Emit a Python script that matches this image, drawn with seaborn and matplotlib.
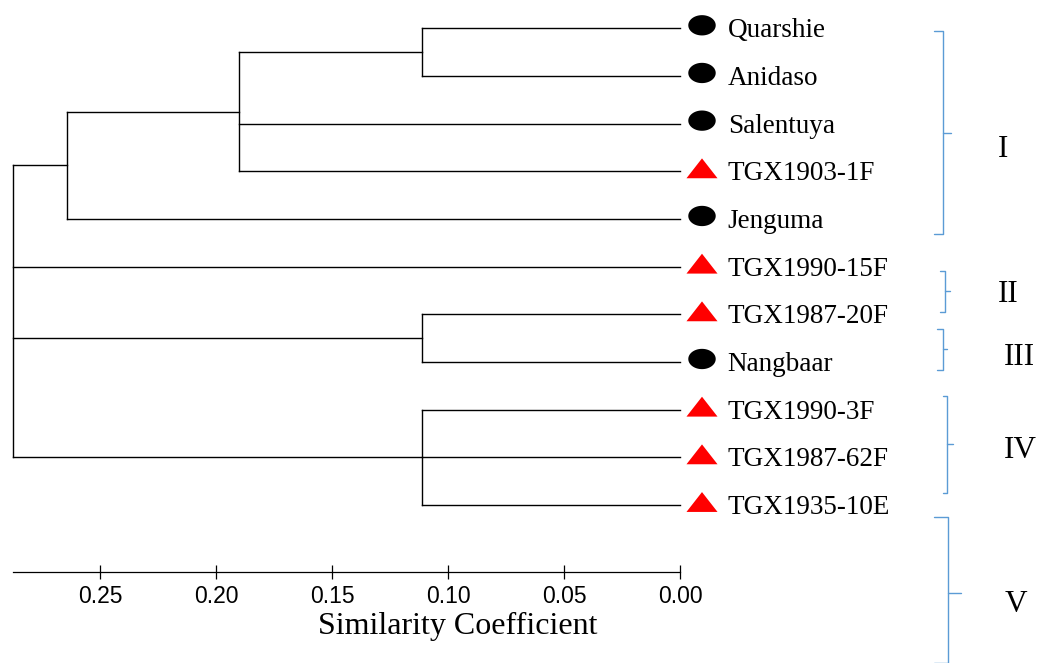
import numpy as np
import pandas as pd
import matplotlib
matplotlib.use("Agg")
import matplotlib.pyplot as plt
import seaborn as sns
from matplotlib.path import Path
from matplotlib.transforms import offset_copy

# ---------------- data ----------------
leaves = ["Quarshie", "Anidaso", "Salentuya", "TGX1903-1F", "Jenguma",
          "TGX1990-15F", "TGX1987-20F", "Nangbaar", "TGX1990-3F",
          "TGX1987-62F", "TGX1935-10E"]
leaf_kind = ["Local", "Local", "Local", "Improved", "Local",
             "Improved", "Improved", "Local", "Improved", "Improved", "Improved"]

node_names = ["A", "B", "C", "D", "E", "root"]
node_children = [["Quarshie", "Anidaso"],
                 ["A", "Salentuya", "TGX1903-1F"],
                 ["B", "Jenguma"],
                 ["TGX1987-20F", "Nangbaar"],
                 ["TGX1990-3F", "TGX1987-62F", "TGX1935-10E"],
                 ["C", "TGX1990-15F", "D", "E"]]
node_heights = [0.111, 0.190, 0.264, 0.111, 0.111, 0.2875]

x_ticks = [0.25, 0.20, 0.15, 0.10, 0.05, 0.00]
x_label = "Similarity Coefficient"

group_names = ["I", "II", "III", "IV", "V"]

# ---------------- style ----------------
sns.set_theme(style="ticks")
plt.rcParams["font.family"] = ["Liberation Serif", "DejaVu Serif"]

W, H = 1040, 663
fig = plt.figure(figsize=(W / 100, H / 100), dpi=100)
fig.patch.set_facecolor("white")

ax_left, ax_right, ax_bottom_px = 12.7, 680.0, 572.3
ax = fig.add_axes([ax_left / W, (H - ax_bottom_px) / H,
                   (ax_right - ax_left) / W, ax_bottom_px / H])
ax.patch.set_alpha(0)

# ---------------- dendrogram ----------------
pos = {name: (0.0, float(i)) for i, name in enumerate(leaves)}
lw = 1.0
for name, kids, h in zip(node_names, node_children, node_heights):
    ys = [pos[k][1] for k in kids]
    for k in kids:
        kx, ky = pos[k]
        ax.plot([h, kx], [ky, ky], color="black", lw=lw,
                solid_capstyle="projecting", clip_on=False)
    ax.plot([h, h], [min(ys), max(ys)], color="black", lw=lw,
            solid_capstyle="projecting", clip_on=False)
    pos[name] = (h, (min(ys) + max(ys)) / 2)

# ---------------- leaf markers ----------------
theta = np.linspace(0, 2 * np.pi, 80)
ellipse = Path(np.column_stack([0.5 * np.cos(theta), 0.37 * np.sin(theta)]), closed=True)
triangle = Path([(-0.5, -0.32), (0.5, -0.32), (0.0, 0.32), (-0.5, -0.32)], closed=True)

df = pd.DataFrame({"x": [0.0] * len(leaves), "y": np.arange(len(leaves)),
                   "kind": leaf_kind, "label": leaves})

mk_tr = offset_copy(ax.transData, fig=fig, x=22 * 0.72, y=3 * 0.72, units="points")
sns.scatterplot(data=df, x="x", y="y", hue="kind", style="kind", size="kind",
                palette={"Local": "black", "Improved": "red"},
                markers={"Local": ellipse, "Improved": triangle},
                sizes={"Local": 390, "Improved": 500},
                linewidth=0, legend=False, clip_on=False, transform=mk_tr, ax=ax)

leaf_fs = 19.5
lbl_tr = offset_copy(ax.transData, fig=fig, x=47.7 * 0.72, y=-0.331 * leaf_fs,
                     units="points")
for _, r in df.iterrows():
    ax.text(r["x"], r["y"], r["label"], transform=lbl_tr, ha="left",
            va="baseline", fontsize=leaf_fs, color="black",
            fontfamily="Liberation Serif", clip_on=False)

# ---------------- axes ----------------
ax.set_xlim(0.2876, 0.0)
ax.set_ylim((ax_bottom_px - 28.3) / 47.67, -28.3 / 47.67)
ax.set_yticks([])
ax.set_ylabel("")
for s in ["top", "left", "right"]:
    ax.spines[s].set_visible(False)
ax.spines["bottom"].set_color("black")
ax.spines["bottom"].set_linewidth(0.9)
ax.set_xticks(x_ticks, labels=[f"{t:.2f}" for t in x_ticks],
              fontfamily="Liberation Sans", fontsize=16.5)
ax.tick_params(axis="x", direction="inout", length=9.6, width=0.9, pad=4.0,
               colors="black", labelcolor="black")
ax.set_xlabel(x_label, fontsize=23, fontfamily="Liberation Serif", color="black")
ax.xaxis.set_label_coords(0.6666, (ax_bottom_px - 634) / ax_bottom_px)
ax.xaxis.label.set_va("baseline")

# ---------------- group brackets ----------------
br_top = [31, 271, 329, 396, 517]
br_bottom = [234, 312, 370, 493, 663]
br_x = [943, 945, 943, 947, 947.5]
br_end = [934, 940, 937, 943, 934]
br_mid = [133, 291, 349, 444, 593]
br_tip = [951, 950, 947, 953, 961]
lab_x = [1003, 1008, 1019, 1020, 1016]
lab_base = [157, 302, 365, 458, 612]

ov = fig.add_axes([0, 0, 1, 1])
ov.set_xlim(0, W)
ov.set_ylim(H, 0)
ov.axis("off")
ov.patch.set_alpha(0)
bcol = "#5B9BD5"
for name, t, b, x, e, m, tip, lx, lb in zip(group_names, br_top, br_bottom, br_x,
                                             br_end, br_mid, br_tip, lab_x, lab_base):
    ov.plot([e, x, x, e], [t, t, b, b], color=bcol, lw=1.0, clip_on=False)
    ov.plot([x, tip], [m, m], color=bcol, lw=1.0, clip_on=False)
    ov.text(lx, lb, name, ha="center", va="baseline", fontsize=22.5,
            fontfamily="Liberation Serif", color="black")

fig.savefig("out.png", dpi=100, facecolor="white")
